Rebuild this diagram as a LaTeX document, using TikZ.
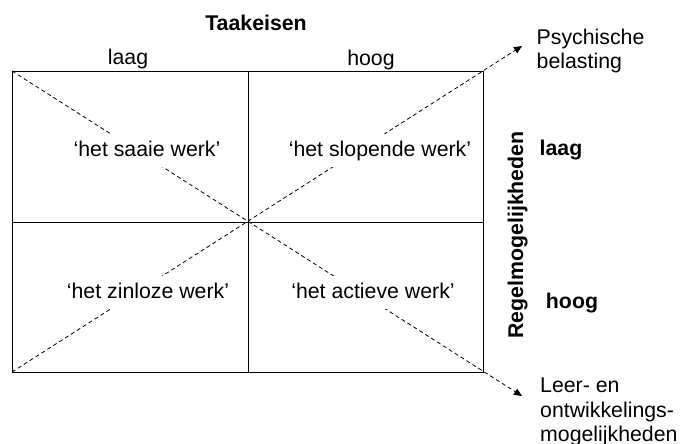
\documentclass[tikz,border=0pt]{standalone}
\usepackage{fontspec}
\setmainfont{Liberation Sans}
\usetikzlibrary{arrows.meta}
\begin{document}
\begin{tikzpicture}[x=1pt,y=-1pt,
  lbl/.style={font=\fontsize{21.3}{24.5}\selectfont, inner sep=0pt},
  blbl/.style={font=\fontsize{21.3}{24.5}\selectfont\bfseries, inner sep=0pt},
  quad/.style={lbl, fill=white, text height=16pt, text depth=5pt, inner ysep=6pt, inner xsep=2pt, anchor=base},
  gridline/.style={draw=black, line width=0.8pt},
  diag/.style={draw=black, line width=0.8pt, dash pattern=on 4pt off 3pt},
  tip/.style={-{Triangle[length=8pt,width=7pt]}}]
\useasboundingbox (0,0) rectangle (683,444);
\coordinate (tl) at (12,71);
\coordinate (tr) at (483,71);
\coordinate (bl) at (12,372);
\coordinate (br) at (483,372);
\coordinate (tm) at (248,71);
\coordinate (bm) at (248,372);
\coordinate (lm) at (12,222);
\coordinate (rm) at (483,222);
\coordinate (e1) at (522,396);
\coordinate (e2) at (522,46);
% grid
\draw[gridline] (tl) rectangle (br);
\draw[gridline] (tm) -- (bm);
\draw[gridline] (lm) -- (rm);
% diagonals
\draw[diag,tip] (tl) -- (e1);
\draw[diag,tip] (bl) -- (e2);
% quadrant labels
\node[quad] (q1) at (147,156) {‘het saaie werk’};
\node[quad] (q2) at (380,156) {‘het slopende werk’};
\node[quad] (q3) at (148,298) {‘het zinloze werk’};
\node[quad] (q4) at (373,298) {‘het actieve werk’};
% axis labels
\node[blbl, anchor=base] (tk) at (256,31) {Taakeisen};
\node[lbl, anchor=base] (tlaag) at (128,65) {laag};
\node[lbl, anchor=base] (thoog) at (371,66) {hoog};
\node[blbl, anchor=base, rotate=90] (rg) at (523,235) {Regelmogelijkheden};
\node[blbl, anchor=base] (rlaag) at (561,155) {laag};
\node[blbl, anchor=base] (rhoog) at (572,308) {hoog};
% outcome labels
\node[lbl, align=left, anchor=north west] (psy) at (536.5,28.7) {Psychische\\belasting};
\node[lbl, align=left, anchor=north west] (leer) at (540,377.7) {Leer- en\\ontwikkelings-\\mogelijkheden};
\end{tikzpicture}
\end{document}
